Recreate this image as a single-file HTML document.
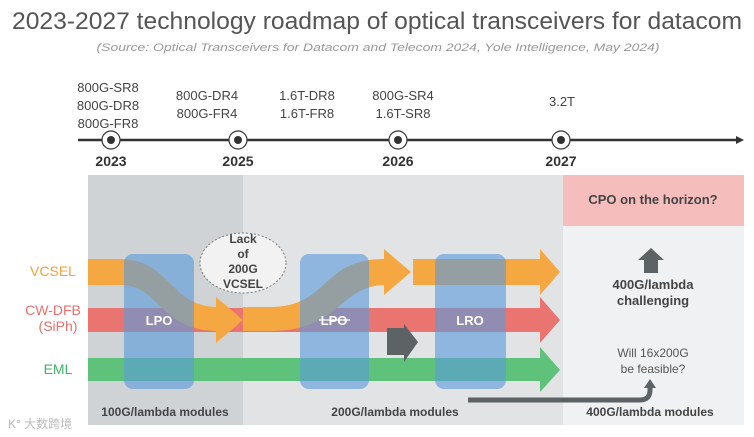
<!DOCTYPE html>
<html><head><meta charset="utf-8"><style>
body{margin:0;background:#fff;}
svg{display:block;font-family:"Liberation Sans","Noto Sans CJK SC",sans-serif;}
</style></head><body>
<svg id="c" width="754" height="437" viewBox="0 0 754 437">
<text x="377" y="29" text-anchor="middle" font-size="24" fill="#555" textLength="730" lengthAdjust="spacingAndGlyphs">2023-2027 technology roadmap of optical transceivers for datacom</text>
<text x="378" y="51" text-anchor="middle" font-size="11" font-style="italic" fill="#999" textLength="563" lengthAdjust="spacingAndGlyphs">(Source: Optical Transceivers for Datacom and Telecom 2024, Yole Intelligence, May 2024)</text>
<g id="timeline">
<line x1="78" y1="140" x2="738" y2="140" stroke="#333" stroke-width="2.5"/>
<polygon points="736,136 744,140 736,144" fill="#333"/>
</g>
<rect x="88" y="175" width="155" height="250" fill="#d0d3d6"/>
<rect x="243" y="175" width="320" height="250" fill="#e1e3e5"/>
<rect x="563" y="175" width="181" height="250" fill="#f0f1f2"/>
<rect x="563" y="175" width="181" height="51" fill="#f5bdbc"/>
<text x="653" y="204" text-anchor="middle" font-size="13" font-weight="bold" fill="#444">CPO on the horizon?</text>
<g fill="#ea7470">
<rect x="88" y="308" width="454" height="24"/><polygon points="540,297 560,320 540,343"/></g>
<g fill="#5ec27a">
<rect x="88" y="358" width="454" height="23"/><polygon points="540,347 560,370 540,392"/></g>
<g fill="#f5a742">
<path d="M88,259 L120,259 C170,259 170,307 218,307 L218,331 C160,331 160,285 120,285 L88,285 Z"/>
<polygon points="216,297 243,320 216,343"/>
<path d="M243,307 L270,307 C330,307 320,259 385,259 L385,285 C340,285 340,331 270,331 L243,331 Z"/>
<polygon points="384,249 411,272 384,295"/>
<rect x="413" y="259" width="128" height="26"/>
<polygon points="540,249 560,272 540,295"/></g>
<g fill="#5d6264">
<rect x="387" y="328" width="18" height="27"/><polygon points="404,324 418,342 404,362"/></g>
<rect x="124" y="254" width="70" height="135" rx="9" fill="rgba(90,155,220,0.62)"/>
<rect x="300" y="254" width="69" height="135" rx="9" fill="rgba(90,155,220,0.62)"/>
<rect x="435" y="254" width="71" height="135" rx="9" fill="rgba(90,155,220,0.62)"/>
<text x="159" y="325" text-anchor="middle" font-size="13" font-weight="bold" fill="#fff">LPO</text>
<text x="334" y="325" text-anchor="middle" font-size="13" font-weight="bold" fill="#fff">LPO</text>
<line x1="319" y1="320" x2="350" y2="320" stroke="#fff" stroke-width="1.2"/>
<text x="470" y="325" text-anchor="middle" font-size="13" font-weight="bold" fill="#fff">LRO</text>
<ellipse cx="243" cy="263" rx="43" ry="30" fill="#f2f2f2" stroke="#777" stroke-dasharray="2,2"/>
<g font-size="12" font-weight="bold" fill="#444" text-anchor="middle">
<text x="243" y="243">Lack</text><text x="243" y="258">of</text><text x="243" y="273">200G</text><text x="243" y="288">VCSEL</text></g>
<text x="53" y="276" text-anchor="middle" font-size="14" fill="#f2a33a">VCSEL</text>
<text x="53" y="315" text-anchor="middle" font-size="14" fill="#e8706c">CW-DFB</text>
<text x="58" y="331" text-anchor="middle" font-size="14" fill="#e8706c">(SiPh)</text>
<text x="58" y="374" text-anchor="middle" font-size="14" fill="#3fb36a">EML</text>
<polygon points="638,260 651,248 664,260 658,260 658,273 644,273 644,260" fill="#5d6264"/>
<text x="653" y="289" text-anchor="middle" font-size="13" font-weight="bold" fill="#444">400G/lambda</text>
<text x="653" y="305" text-anchor="middle" font-size="13" font-weight="bold" fill="#444">challenging</text>
<text x="653" y="357" text-anchor="middle" font-size="12" fill="#555">Will 16x200G</text>
<text x="653" y="373" text-anchor="middle" font-size="12" fill="#555">be feasible?</text>
<path d="M468,400 L640,400 Q650,400 650,390 L650,386" fill="none" stroke="#5d6264" stroke-width="5"/>
<polygon points="644,388 650,379 656,388" fill="#5d6264"/>
<g font-size="12" font-weight="bold" fill="#444" text-anchor="middle">
<text x="165" y="416">100G/lambda modules</text>
<text x="395" y="416">200G/lambda modules</text>
<text x="650" y="416">400G/lambda modules</text></g>
<text x="8" y="428" font-size="12" fill="#bbb">K° 大数跨境</text>
</svg>
<script>
const years=["2023","2025","2026","2027"];
const milestoneLabels=[["800G-SR8","800G-DR8","800G-FR8"],["800G-DR4","800G-FR4"],["1.6T-DR8","1.6T-FR8"],["800G-SR4","1.6T-SR8"],["3.2T"]];
const yearIndex=[0,1,2,3];
const NS="http://www.w3.org/2000/svg";
const svg=document.getElementById('c');
const tl=document.getElementById('timeline');
const yearX=[111,238,398,561];
const labelX=[108,207,307,403,562];
function mk(t,a){const e=document.createElementNS(NS,t);for(const k in a)e.setAttribute(k,a[k]);return e;}
years.forEach((y,i)=>{
  const x=yearX[i];
  const c1=mk('circle',{cx:x,cy:140,r:9,fill:'#fff',stroke:'#333','stroke-width':1.2});
  
  
  tl.appendChild(c1);
  tl.appendChild(mk('circle',{cx:x,cy:140,r:4,fill:'#333'}));
  const t=mk('text',{x:x,y:166,'text-anchor':'middle','font-size':14,'font-weight':'bold',fill:'#333'});
  t.textContent=y;
  
  
  tl.appendChild(t);
});
milestoneLabels.forEach((g,i)=>{
  const n=g.length;
  const start= n===3?92: n===2?100:106;
  g.forEach((s,j)=>{
    const t=mk('text',{x:labelX[i],y:start+j*18,'text-anchor':'middle','font-size':13,fill:'#444'});
    t.textContent=s;
    
    
    tl.appendChild(t);
  });
});
</script>
</body></html>
